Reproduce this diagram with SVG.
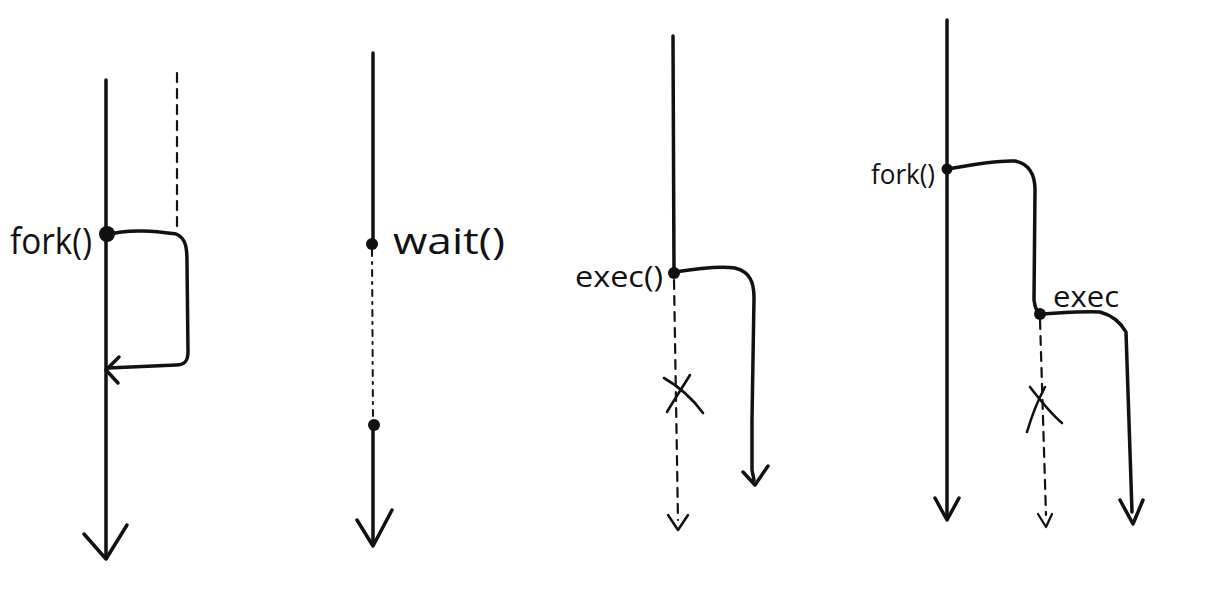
<svg xmlns="http://www.w3.org/2000/svg" width="1232" height="604" viewBox="0 0 1232 604">
<style>
.s{fill:none;stroke:#111;stroke-width:3.5;stroke-linecap:round;stroke-linejoin:round}
.x{fill:none;stroke:#111;stroke-width:2.6;stroke-linecap:round}
.d{fill:none;stroke:#111;stroke-width:2.2;stroke-dasharray:9 7;stroke-linecap:round}
.dt{fill:none;stroke:#111;stroke-width:2;stroke-dasharray:6 6 2 6;stroke-linecap:round}
.t{font-family:"Open Sans","Liberation Sans",sans-serif;fill:#111}
.dot{fill:#111}
</style>
<rect width="1232" height="604" fill="#fff"/>
<g id="panel-fork">
  <path class="s" d="M106 80 L106 555"/>
  <path class="s" d="M84 534 L106 559 L127 525"/>
  <path class="d" d="M177 73 L177 233"/>
  <path class="s" d="M107 235 C130 228 160 232 176 234 C186 238 187 248 187 262 L188 352 C188 362 184 365 176 365 L108 368"/>
  <path class="s" d="M119 357 L106 370 L118 383"/>
  <circle class="dot" cx="107" cy="234" r="8"/>
  <text class="t" x="10" y="254" font-size="36" textLength="82" lengthAdjust="spacingAndGlyphs">fork()</text>
</g>
<g id="panel-wait">
  <path class="s" d="M373 53 L373 242"/>
  <path class="dt" d="M372 250 L373 418"/>
  <path class="s" d="M373 422 L373 542"/>
  <path class="s" d="M357 520 L373 546 L392 510"/>
  <circle class="dot" cx="372" cy="244" r="6"/>
  <circle class="dot" cx="374" cy="425" r="6"/>
  <text class="t" x="393" y="254" font-size="36" textLength="112" lengthAdjust="spacingAndGlyphs">wait()</text>
</g>
<g id="panel-exec">
  <path class="s" d="M673 36 L674 272"/>
  <path class="s" d="M675 272 C700 268 720 266 735 268 C750 272 754 282 754 298 L752 420 L752 470 L754 480"/>
  <path class="s" d="M743 472 L755 485 L768 466"/>
  <path class="d" d="M674 280 L678 520"/>
  <path class="s" d="M668 515 L678 530 L688 515" style="stroke-width:2.5"/>
  <path class="x" d="M664 378 C678 386 692 398 703 413"/>
  <path class="x" d="M690 375 C682 388 674 400 667 412"/>
  <circle class="dot" cx="674" cy="273" r="6"/>
  <text class="t" x="575" y="287" font-size="30" textLength="88" lengthAdjust="spacingAndGlyphs">exec()</text>
</g>
<g id="panel-fork-exec">
  <path class="s" d="M947 20 L947 515"/>
  <path class="s" d="M935 498 L947 520 L959 498"/>
  <path class="s" d="M948 169 C970 165 995 160 1015 161 C1030 164 1035 176 1035 190 L1034 300 C1035 308 1037 312 1040 314"/>
  <path class="s" d="M1041 314 C1060 313 1085 311 1100 312 C1115 316 1122 325 1126 332 L1132 512"/>
  <path class="s" d="M1120 500 L1133 524 L1143 500"/>
  <path class="d" d="M1040 320 L1046 515"/>
  <path class="s" d="M1038 514 L1046 527 L1052 514" style="stroke-width:2.3"/>
  <path class="x" d="M1030 387 C1040 400 1050 413 1062 423"/>
  <path class="x" d="M1045 387 C1038 400 1032 415 1027 432"/>
  <circle class="dot" cx="947" cy="169" r="5.5"/>
  <circle class="dot" cx="1040" cy="314" r="6"/>
  <text class="t" x="871" y="184" font-size="28" textLength="64" lengthAdjust="spacingAndGlyphs">fork()</text>
  <text class="t" x="1053" y="307" font-size="30" textLength="66" lengthAdjust="spacingAndGlyphs">exec</text>
</g>
</svg>
